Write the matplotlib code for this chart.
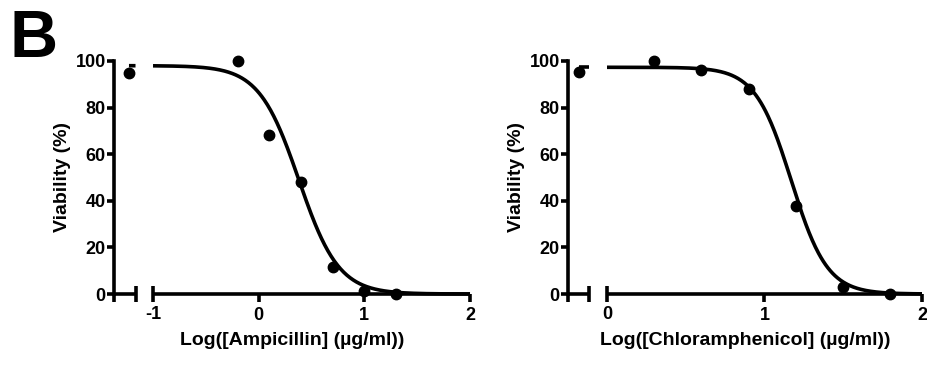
"""
Dose-response curves (Prism style, broken x axis)
Ampicillin and chloramphenicol viability vs log concentration
"""

import numpy as np
import matplotlib
matplotlib.use('Agg')
import matplotlib.pyplot as plt

plt.rcParams['font.family'] = ['Liberation Sans', 'DejaVu Sans']
plt.rcParams['font.weight'] = 'bold'

# ---- data ----
amp_logc = [-0.2, 0.1, 0.4, 0.7, 1.0, 1.3]
amp_viab = [100.0, 68.3, 48.0, 11.5, 1.3, 0.0]
amp_ctrl_x = -1.22
amp_ctrl_y = 94.7
amp_fit = dict(top=98.0, bottom=0.0, logic50=0.38, hill=2.3)

chl_logc = [0.3, 0.6, 0.9, 1.2, 1.5, 1.8]
chl_viab = [100.0, 96.0, 88.0, 37.8, 2.9, 0.0]
chl_ctrl_x = -0.18
chl_ctrl_y = 95.2
chl_fit = dict(top=97.3, bottom=0.0, logic50=1.17, hill=3.8)

y_ticks = [0, 20, 40, 60, 80, 100]
LW = 2.6
TICK_FS = 13
LABEL_FS = 14


def four_pl(x, top, bottom, logic50, hill):
    return bottom + (top - bottom) / (1 + 10 ** ((x - logic50) * hill))


def style_axis(ax, xlim):
    ax.set_xlim(*xlim)
    ax.set_ylim(0, 100)
    for s in ['top', 'right']:
        ax.spines[s].set_visible(False)
    ax.spines['bottom'].set_linewidth(LW)
    ax.spines['left'].set_linewidth(LW)
    ax.spines['bottom'].set_capstyle('butt')
    ax.patch.set_alpha(0)
    ax.tick_params(width=LW, labelsize=TICK_FS, direction='out')


def draw_panel(fig, small_box, main_box, small_xlim, main_xlim, main_ticks,
               logc, viab, ctrl_x, ctrl_y, fit, xlabel):
    bottom, height = 0.1945, 0.6384
    ax_s = fig.add_axes([small_box[0], bottom, small_box[1], height])
    ax_m = fig.add_axes([main_box[0], bottom, main_box[1], height])
    style_axis(ax_s, small_xlim)
    style_axis(ax_m, main_xlim)

    # small (control) segment
    ax_s.set_yticks(y_ticks)
    ax_s.tick_params(axis='y', length=5, pad=1)
    ax_s.set_xticks([small_xlim[0]], labels=[''])
    ax_s.set_xticks([small_xlim[1]], labels=[''], minor=True)
    ax_s.tick_params(axis='x', which='major', length=6)
    ax_s.tick_params(axis='x', which='minor', direction='inout', length=11, width=LW)
    ax_s.set_ylabel('Viability (%)', fontsize=LABEL_FS, fontweight='bold', labelpad=3)
    for t in ax_s.get_yticklabels():
        t.set_fontweight('bold')

    # main segment
    ax_m.spines['left'].set_visible(False)
    ax_m.set_yticks([])
    ax_m.set_xticks(main_ticks[1:], labels=[str(t) for t in main_ticks[1:]])
    ax_m.set_xticks(main_ticks[:1], labels=[str(main_ticks[0])], minor=True)
    ax_m.tick_params(axis='x', which='major', length=6, pad=3)
    ax_m.tick_params(axis='x', which='minor', direction='inout', length=11,
                     width=LW, labelsize=TICK_FS, pad=3)
    for t in ax_m.get_xticklabels(which='both'):
        t.set_fontweight('bold')

    # fitted curve
    xs = np.linspace(ctrl_x, small_xlim[1] - 0.02 * (small_xlim[1] - small_xlim[0]), 20)
    ax_s.plot(xs, four_pl(xs, **fit), color='black', lw=LW, clip_on=False,
              solid_capstyle='butt')
    xm = np.linspace(main_xlim[0], main_xlim[1], 400)
    ax_m.plot(xm, four_pl(xm, **fit), color='black', lw=LW, clip_on=False,
              solid_capstyle='butt')

    # points
    ax_s.plot([ctrl_x], [ctrl_y], 'o', color='black', ms=7.5, clip_on=False, zorder=5)
    ax_m.plot(logc, viab, 'o', color='black', ms=7.5, clip_on=False, zorder=5)

    cx = (small_box[0] + main_box[0] + main_box[1]) / 2
    fig.text(cx, 0.068, xlabel, ha='center', va='center', fontsize=LABEL_FS,
             fontweight='bold')


def main():
    fig = plt.figure(figsize=(9.28, 3.65), dpi=100)

    draw_panel(fig, (0.1228, 0.0237), (0.1649, 0.3416), (-1.362, -1.154), (-1, 2),
               [-1, 0, 1, 2], amp_logc, amp_viab, amp_ctrl_x, amp_ctrl_y, amp_fit,
               'Log([Ampicillin] (µg/ml))')
    draw_panel(fig, (0.6121, 0.0226), (0.6541, 0.3394), (-0.248, -0.114), (0, 2),
               [0, 1, 2], chl_logc, chl_viab, chl_ctrl_x, chl_ctrl_y, chl_fit,
               'Log([Chloramphenicol] (µg/ml))')

    fig.text(0.01, 0.974, 'B', fontsize=48, fontweight='bold', ha='left', va='top')

    fig.savefig('out.png', dpi=100)
    plt.close(fig)


if __name__ == "__main__":
    main()
